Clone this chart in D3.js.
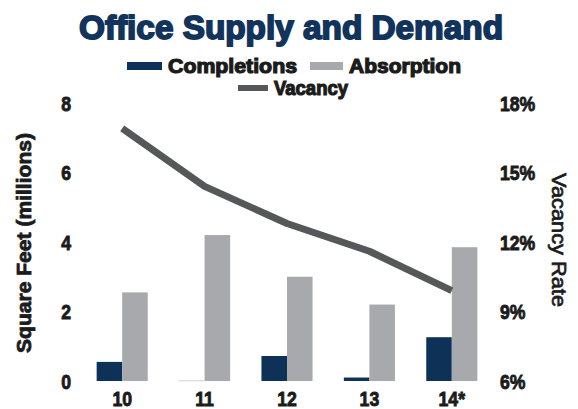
<!DOCTYPE html>
<html>
<head>
<meta charset="utf-8">
<script src="https://cdn.jsdelivr.net/npm/d3@7"></script>
<style>
  body { margin: 0; background: #fff; }
  svg { display: block; font-family: "Liberation Sans", Arial, sans-serif; }
  .tick-label { font-weight: bold; font-size: 21px; fill: #1b1b1b; stroke: #1b1b1b; stroke-width: 0.9px; }
</style>
</head>
<body>
<div id="chart"></div>
<script>
const YEARS = ['10', '11', '12', '13', '14*']
const COMPLETIONS = [0.55, 0.02, 0.72, 0.1, 1.26]
const ABSORPTION = [2.55, 4.2, 3.0, 2.2, 3.85]
const VACANCY = [16.9, 14.4, 12.8, 11.6, 9.9]

const LEFT_TICKS = [0, 2, 4, 6, 8]
const RIGHT_TICKS = [6, 9, 12, 15, 18]

const SERIES = ['Completions', 'Absorption']
const COLORS = { Completions: '#0e3158', Absorption: '#a7a9ac', Vacancy: '#555759' }

const WIDTH = 578
const HEIGHT = 409
const PLOT = { left: 81, right: 493, top: 103, bottom: 381 }
const SQUEEZE = 0.84

let svg = d3.select('#chart')
  .append('svg')
    .attr('width', WIDTH)
    .attr('height', HEIGHT)

let x = d3.scaleBand()
  .domain(YEARS)
  .range([PLOT.left, PLOT.right])
  .paddingInner(0.38)
  .paddingOuter(0.19)

let xs = d3.scaleBand()
  .domain(SERIES)
  .range([0, x.bandwidth()])

let yLeft = d3.scaleLinear()
  .domain([0, 8])
  .range([PLOT.bottom, PLOT.top])

let yRight = d3.scaleLinear()
  .domain([6, 18])
  .range([PLOT.bottom, PLOT.top])

// title
svg.append('text')
  .attr('x', 291)
  .attr('y', 39)
  .attr('text-anchor', 'middle')
  .attr('textLength', 424)
  .attr('lengthAdjust', 'spacingAndGlyphs')
  .style('font-size', '33px')
  .style('font-weight', 'bold')
  .style('fill', '#12345c')
  .style('stroke', '#12345c')
  .style('stroke-width', '1.8px')
  .text('Office Supply and Demand')

// legend
let legendItems = [
  { name: 'Completions', sx: 127, sw: 35, tx: 168, tw: 129, y: 66, kind: 'rect' },
  { name: 'Absorption', sx: 310, sw: 33, tx: 349, tw: 112, y: 66, kind: 'rect' },
  { name: 'Vacancy', sx: 238, sw: 30, tx: 274, tw: 74, y: 88, kind: 'line' }
]

let legend = svg.append('g').attr('class', 'legend')

legend.selectAll('.swatch')
  .data(legendItems)
  .enter().append('rect')
    .attr('class', 'swatch')
    .attr('x', (d) => d.sx)
    .attr('y', (d) => d.kind === 'rect' ? d.y - 4 : d.y - 3)
    .attr('width', (d) => d.sw)
    .attr('height', (d) => d.kind === 'rect' ? 8 : 6)
    .attr('fill', (d) => COLORS[d.name])

legend.selectAll('.legend-label')
  .data(legendItems)
  .enter().append('text')
    .attr('class', 'legend-label')
    .attr('x', (d) => d.tx)
    .attr('y', (d) => d.y + 7)
    .attr('textLength', (d) => d.tw)
    .attr('lengthAdjust', 'spacingAndGlyphs')
    .style('font-size', '20px')
    .style('font-weight', 'bold')
    .style('fill', '#1b1b1b')
    .style('stroke', '#1b1b1b')
    .style('stroke-width', '1.2px')
    .text((d) => d.name)

// bars
let rows = YEARS.map((yr, i) => ({ year: yr, Completions: COMPLETIONS[i], Absorption: ABSORPTION[i] }))

let group = svg.append('g')
    .attr('class', 'bars')
  .selectAll('g')
    .data(rows)
  .enter().append('g')
    .attr('transform', (d) => 'translate(' + x(d.year) + ',0)')

group.selectAll('rect')
  .data((d) => SERIES.map((s) => ({ key: s, value: d[s] })))
  .enter().append('rect')
    .attr('x', (d) => xs(d.key))
    .attr('y', (d) => yLeft(d.value))
    .attr('width', xs.bandwidth())
    .attr('height', (d) => Math.max(1, yLeft(0) - yLeft(d.value)))
    .attr('fill', (d) => d.value < 0.05 ? '#c9d3de' : COLORS[d.key])

// vacancy line
let line = d3.line()
  .x((d, i) => x(YEARS[i]) + x.bandwidth() / 2)
  .y((d) => yRight(d))

svg.append('path')
  .datum(VACANCY)
  .attr('d', line)
  .attr('fill', 'none')
  .attr('stroke', COLORS.Vacancy)
  .attr('stroke-width', 7)
  .attr('stroke-linejoin', 'round')

// left axis labels
svg.append('g')
  .selectAll('text')
    .data(LEFT_TICKS)
  .enter().append('text')
    .attr('class', 'tick-label')
    .attr('transform', (d) => 'translate(71,' + yLeft(d) + ') scale(' + SQUEEZE + ',1)')
    .attr('dy', '0.36em')
    .attr('text-anchor', 'end')
    .text((d) => d)

// right axis labels
svg.append('g')
  .selectAll('text')
    .data(RIGHT_TICKS)
  .enter().append('text')
    .attr('class', 'tick-label')
    .attr('transform', (d) => 'translate(500,' + yRight(d) + ') scale(' + SQUEEZE + ',1)')
    .attr('dy', '0.36em')
    .text((d) => d + '%')

// category labels
svg.append('g')
  .selectAll('text')
    .data(YEARS)
  .enter().append('text')
    .attr('class', 'tick-label')
    .attr('transform', (d) => 'translate(' + (x(d) + x.bandwidth() / 2) + ',406) scale(' + SQUEEZE + ',1)')
    .attr('text-anchor', 'middle')
    .text((d) => d)

// axis titles
svg.append('text')
  .attr('transform', 'translate(31,243) rotate(-90)')
  .attr('text-anchor', 'middle')
  .attr('textLength', 220)
  .attr('lengthAdjust', 'spacingAndGlyphs')
  .style('font-size', '20px')
  .style('font-weight', 'bold')
  .style('fill', '#1b1b1b')
  .style('stroke', '#1b1b1b')
  .style('stroke-width', '0.8px')
  .text('Square Feet (millions)')

svg.append('text')
  .attr('transform', 'translate(552,240) rotate(90)')
  .attr('text-anchor', 'middle')
  .attr('textLength', 134)
  .attr('lengthAdjust', 'spacingAndGlyphs')
  .style('font-size', '20px')
  .style('fill', '#1b1b1b')
  .style('stroke', '#1b1b1b')
  .style('stroke-width', '0.7px')
  .text('Vacancy Rate')
</script>
</body>
</html>
